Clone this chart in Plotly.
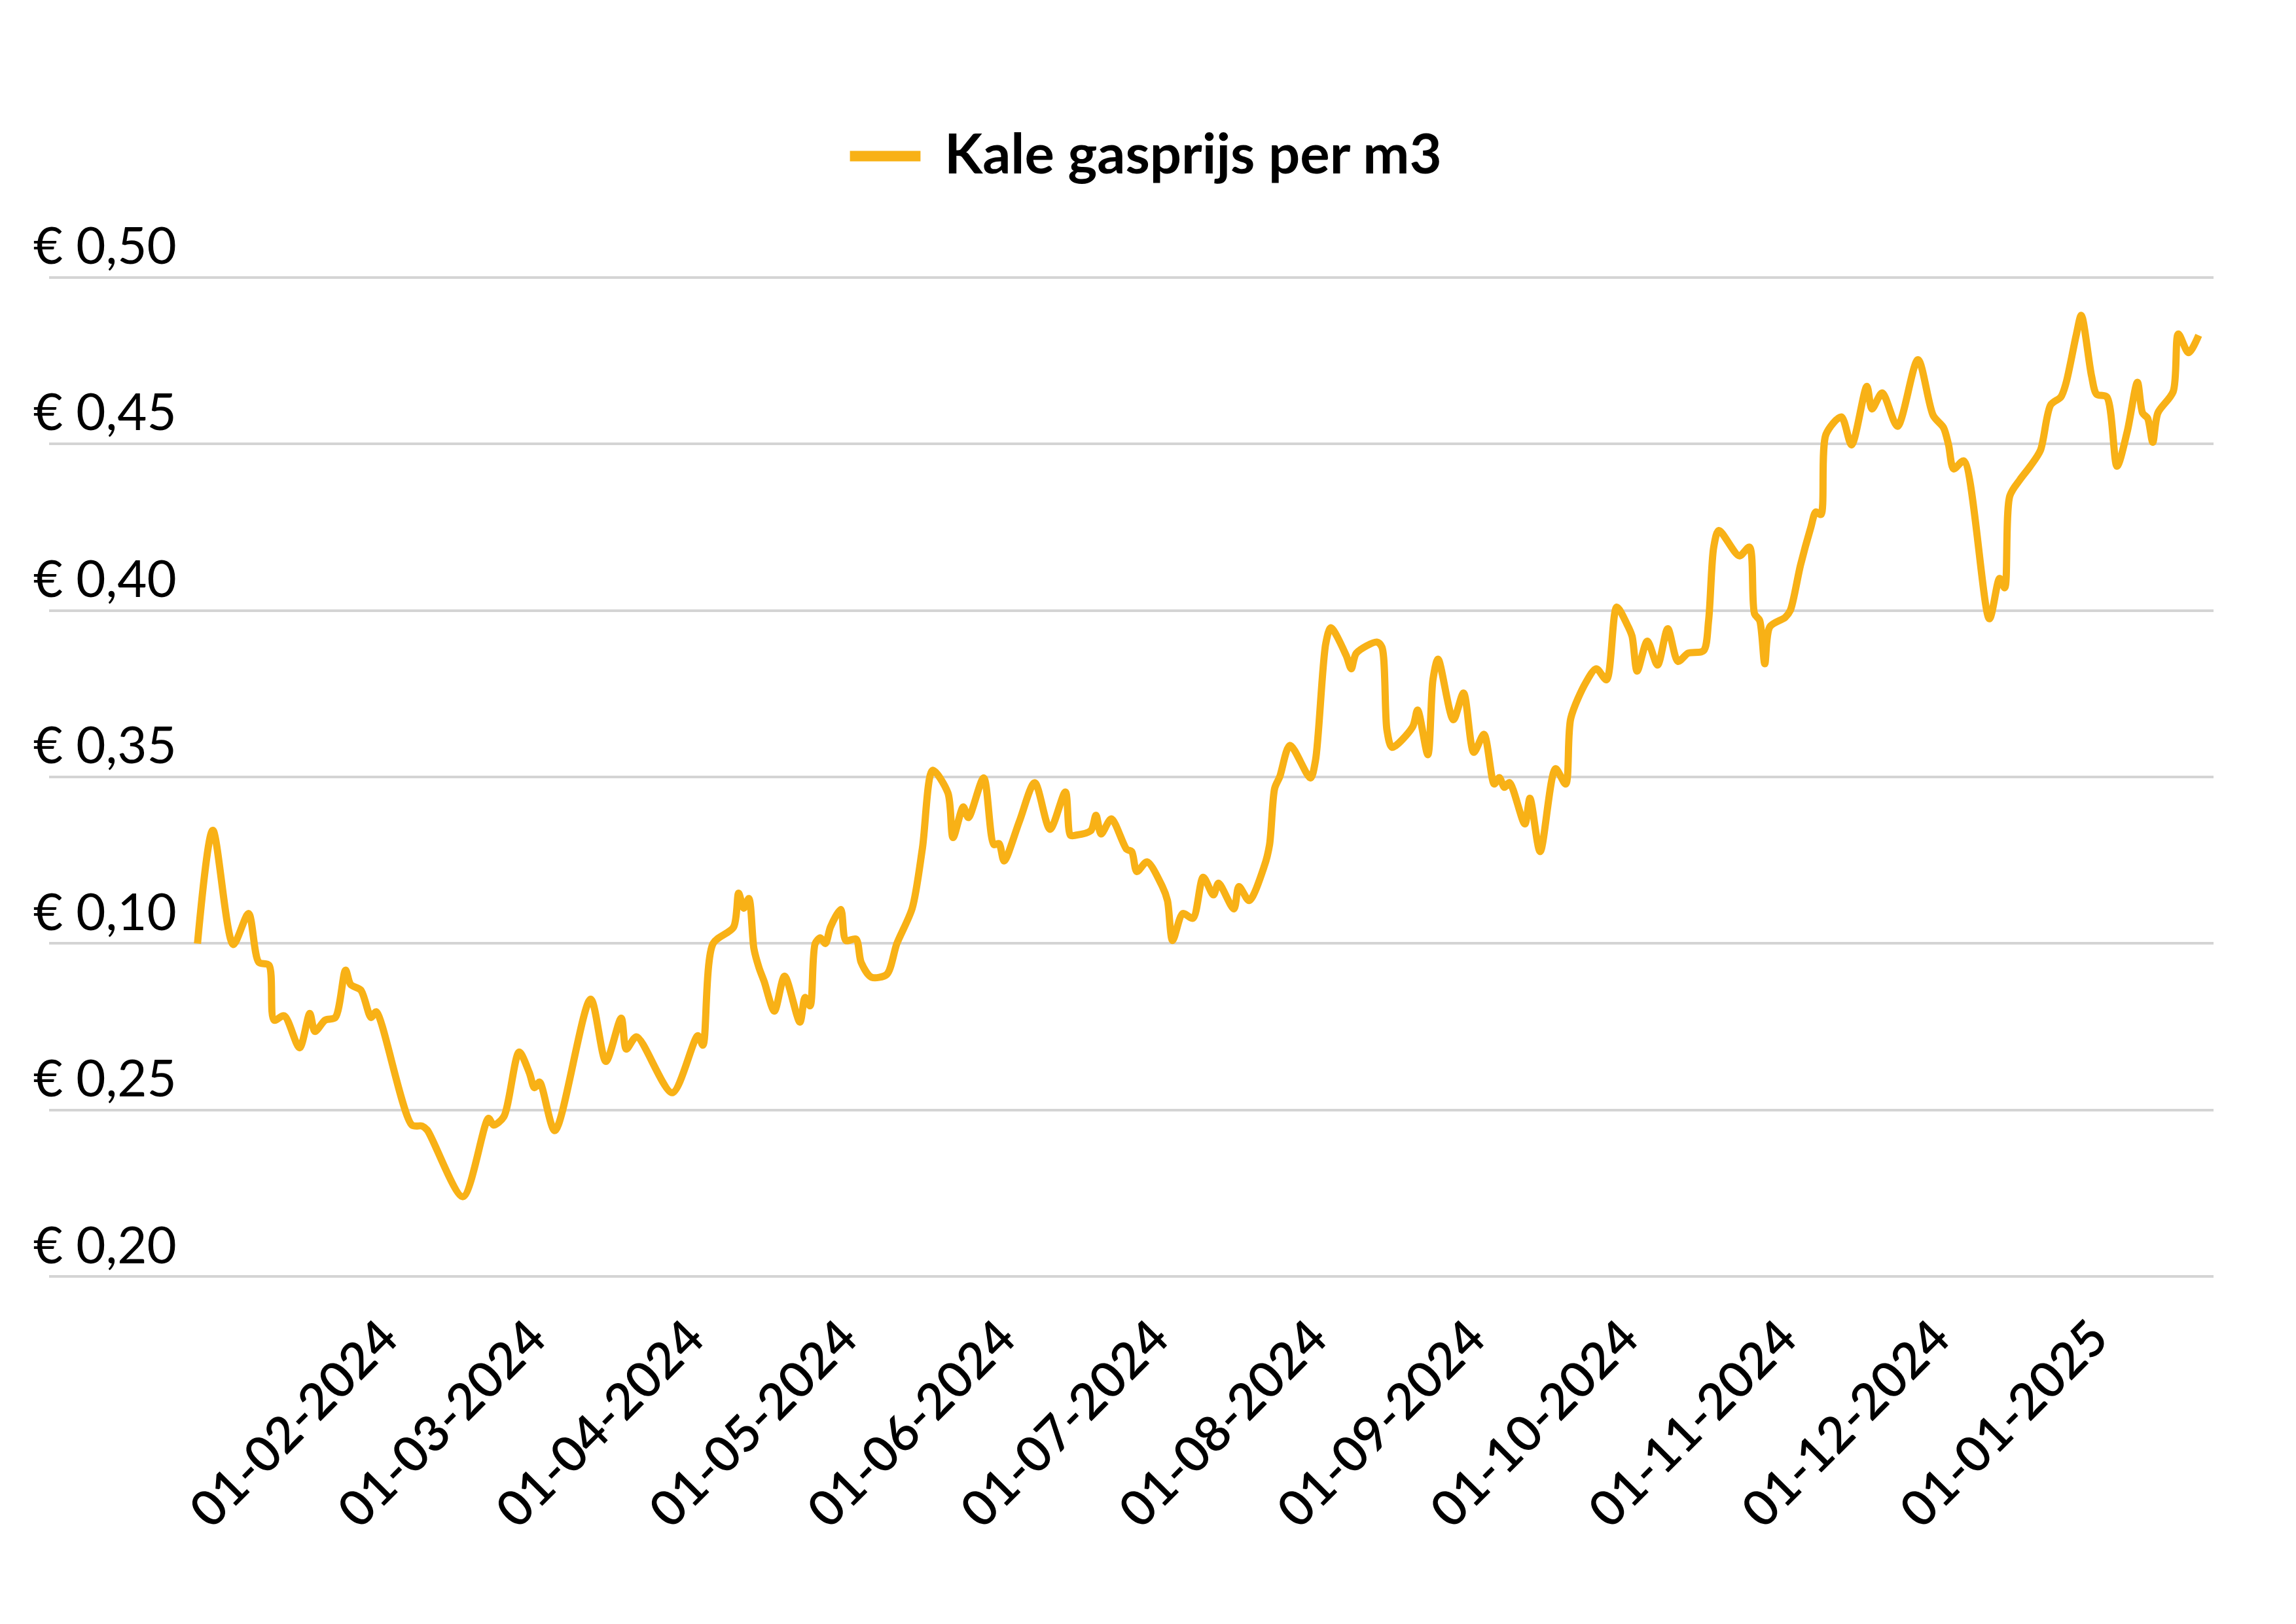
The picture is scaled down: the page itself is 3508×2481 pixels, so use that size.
import plotly.graph_objects as go

# ---- data ----
dates = [
    "2023-12-26", "2023-12-29", "2024-01-02", "2024-01-05", "2024-01-07", "2024-01-09", "2024-01-10",
    "2024-01-12", "2024-01-15", "2024-01-17", "2024-01-18", "2024-01-20", "2024-01-22", "2024-01-24",
    "2024-01-25", "2024-01-27", "2024-01-29", "2024-01-30", "2024-02-06", "2024-02-08", "2024-02-09",
    "2024-02-16", "2024-02-21", "2024-02-22", "2024-02-24", "2024-02-27", "2024-02-29", "2024-03-01",
    "2024-03-02", "2024-03-05", "2024-03-12", "2024-03-15", "2024-03-18", "2024-03-19", "2024-03-21",
    "2024-03-28", "2024-04-02", "2024-04-03", "2024-04-05", "2024-04-09", "2024-04-10", "2024-04-11",
    "2024-04-12", "2024-04-13", "2024-04-14", "2024-04-15", "2024-04-17", "2024-04-19", "2024-04-22",
    "2024-04-23", "2024-04-24", "2024-04-25", "2024-04-26", "2024-04-27", "2024-04-28", "2024-04-30",
    "2024-05-01", "2024-05-03", "2024-05-04", "2024-05-06", "2024-05-09", "2024-05-11", "2024-05-14",
    "2024-05-16", "2024-05-18", "2024-05-21", "2024-05-22", "2024-05-24", "2024-05-25", "2024-05-28",
    "2024-05-30", "2024-05-31", "2024-06-01", "2024-06-04", "2024-06-07", "2024-06-10", "2024-06-13",
    "2024-06-14", "2024-06-15", "2024-06-18", "2024-06-19", "2024-06-20", "2024-06-22", "2024-06-25",
    "2024-06-26", "2024-06-27", "2024-06-29", "2024-07-02", "2024-07-03", "2024-07-04", "2024-07-06",
    "2024-07-08", "2024-07-10", "2024-07-12", "2024-07-13", "2024-07-16", "2024-07-17", "2024-07-19",
    "2024-07-22", "2024-07-23", "2024-07-24", "2024-07-25", "2024-07-27", "2024-07-31", "2024-08-01",
    "2024-08-03", "2024-08-04", "2024-08-07", "2024-08-08", "2024-08-09", "2024-08-13", "2024-08-14",
    "2024-08-15", "2024-08-16", "2024-08-20", "2024-08-21", "2024-08-23", "2024-08-24", "2024-08-25",
    "2024-08-28", "2024-08-30", "2024-09-01", "2024-09-03", "2024-09-05", "2024-09-06", "2024-09-07",
    "2024-09-08", "2024-09-11", "2024-09-12", "2024-09-14", "2024-09-17", "2024-09-19", "2024-09-20",
    "2024-09-23", "2024-09-25", "2024-09-27", "2024-09-29", "2024-10-01", "2024-10-02", "2024-10-03",
    "2024-10-05", "2024-10-07", "2024-10-09", "2024-10-11", "2024-10-13", "2024-10-16", "2024-10-17",
    "2024-10-18", "2024-10-19", "2024-10-23", "2024-10-25", "2024-10-26", "2024-10-27", "2024-10-28",
    "2024-10-29", "2024-11-01", "2024-11-02", "2024-11-04", "2024-11-06", "2024-11-07", "2024-11-08",
    "2024-11-09", "2024-11-12", "2024-11-14", "2024-11-17", "2024-11-18", "2024-11-20", "2024-11-23",
    "2024-11-27", "2024-11-30", "2024-12-02", "2024-12-03", "2024-12-04", "2024-12-06", "2024-12-11",
    "2024-12-13", "2024-12-14", "2024-12-15", "2024-12-17", "2024-12-19", "2024-12-21", "2024-12-23",
    "2024-12-25", "2024-12-26", "2024-12-28", "2024-12-29", "2024-12-31", "2025-01-01", "2025-01-03",
    "2025-01-05", "2025-01-07", "2025-01-09", "2025-01-10", "2025-01-11", "2025-01-12", "2025-01-13",
    "2025-01-16", "2025-01-17", "2025-01-19", "2025-01-21",
]

prices = [
    0.300, 0.334, 0.2997, 0.309, 0.2944, 0.2935, 0.277,
    0.2783, 0.2687, 0.279, 0.2736, 0.277, 0.2778, 0.292,
    0.2877, 0.286, 0.2778, 0.2795, 0.2455, 0.2452, 0.2440,
    0.224, 0.2475, 0.2455, 0.248, 0.2674, 0.2612, 0.2567,
    0.2584, 0.2438, 0.2833, 0.2646, 0.2776, 0.2683, 0.272,
    0.2552, 0.2723, 0.2695, 0.300, 0.3049, 0.3151, 0.3106,
    0.3135, 0.2984, 0.2927, 0.2886, 0.2797, 0.2902, 0.2764,
    0.2838, 0.2813, 0.300, 0.3017, 0.300, 0.305, 0.3102,
    0.3009, 0.3013, 0.2943, 0.2899, 0.2907, 0.300, 0.3106,
    0.3286, 0.352, 0.3452, 0.3318, 0.341, 0.3378, 0.3497,
    0.3297, 0.330, 0.3248, 0.3367, 0.3483, 0.3343, 0.3455,
    0.3325, 0.3325, 0.3339, 0.3385, 0.3329, 0.3374, 0.3283,
    0.3276, 0.3216, 0.3245, 0.3171, 0.3129, 0.3009, 0.309,
    0.3076, 0.3199, 0.3146, 0.3181, 0.3104, 0.3171, 0.3129,
    0.3234, 0.3297, 0.3466, 0.3501, 0.3595, 0.3497, 0.355,
    0.390, 0.3948, 0.3865, 0.3825, 0.3872, 0.3905, 0.389,
    0.364, 0.3589, 0.365, 0.3701, 0.3567, 0.3792, 0.3854,
    0.3672, 0.3752, 0.3574, 0.3628, 0.3479, 0.3498, 0.3469,
    0.3483, 0.3359, 0.3436, 0.3276, 0.3525, 0.3479, 0.3676,
    0.3785, 0.3825, 0.3792, 0.401, 0.3959, 0.3923, 0.3818,
    0.3908, 0.3836, 0.3945, 0.3847, 0.3872, 0.3879, 0.397,
    0.419, 0.424, 0.4164, 0.419, 0.399, 0.397, 0.384,
    0.3951, 0.3979, 0.400, 0.4136, 0.4248, 0.4296, 0.4288,
    0.4529, 0.4581, 0.4497, 0.4673, 0.4605, 0.4653, 0.4553,
    0.4753, 0.4585, 0.4549, 0.4497, 0.4425, 0.4449, 0.3975,
    0.4096, 0.4068, 0.4344, 0.4393, 0.4433, 0.4481, 0.4617,
    0.4641, 0.4682, 0.4826, 0.4886, 0.4705, 0.4649, 0.4641,
    0.4433, 0.4537, 0.4685, 0.4593, 0.4577, 0.4505, 0.4593,
    0.4657, 0.4830, 0.4774, 0.4826,
]

tick_dates = ["2024-02-01", "2024-03-01", "2024-04-01", "2024-05-01", "2024-06-01", "2024-07-01",
              "2024-08-01", "2024-09-01", "2024-10-01", "2024-11-01", "2024-12-01", "2025-01-01"]
tick_labels = ["01-02-2024", "01-03-2024", "01-04-2024", "01-05-2024", "01-06-2024", "01-07-2024",
               "01-08-2024", "01-09-2024", "01-10-2024", "01-11-2024", "01-12-2024", "01-01-2025"]

y_ticks = [0.20, 0.25, 0.30, 0.35, 0.40, 0.45, 0.50]
y_labels = ["€ 0,20", "€ 0,25", "€ 0,10", "€ 0,35", "€ 0,40", "€ 0,45", "€ 0,50"]

series_name = "Kale gasprijs per m3"
line_color = "#F8B116"
grid_color = "#D4D4D4"
font_family = "Lato, 'Open Sans', sans-serif"

fig = go.Figure()
fig.add_trace(go.Scatter(
    x=dates, y=prices, mode="lines", name=series_name, showlegend=False,
    line=dict(color=line_color, width=11, shape="spline", smoothing=0.8),
))

# custom legend (longer key line than plotly's default)
fig.add_shape(type="line", xref="paper", yref="paper",
              x0=0.3700, x1=0.4026, y0=1.0482, y1=1.0482,
              line=dict(color=line_color, width=16))
fig.add_annotation(text="<b>" + series_name + "</b>", xref="paper", yref="paper",
                   x=0.4132, y=1.0522, xanchor="left", yanchor="middle", showarrow=False,
                   font=dict(family=font_family, size=85, color="#000000", weight=900))

fig.update_layout(
    width=3508, height=2481,
    margin=dict(l=67, r=134, t=314, b=437),
    paper_bgcolor="white", plot_bgcolor="white",
    font=dict(family=font_family, color="#000000"),
    xaxis=dict(
        type="date",
        range=["2023-11-26 22:20", "2025-01-23 21:43"],
        tickmode="array", tickvals=tick_dates, ticktext=tick_labels,
        tickangle=-45, showgrid=False, zeroline=False, showline=False, ticks="",
        ticklabelstandoff=-69, ticklabelshift=-5,
        tickfont=dict(family=font_family, size=76, color="#000000", weight=600),
    ),
    yaxis=dict(
        range=[0.18, 0.52],
        tickmode="array", tickvals=y_ticks, ticktext=y_labels,
        showgrid=True, gridcolor=grid_color, gridwidth=4, zeroline=False, showline=False, ticks="",
        ticklabelposition="inside", ticklabelstandoff=-27, ticklabelshift=-48,
        tickfont=dict(family=font_family, size=78, color="#000000"),
    ),
)

fig.write_html("out.html")
